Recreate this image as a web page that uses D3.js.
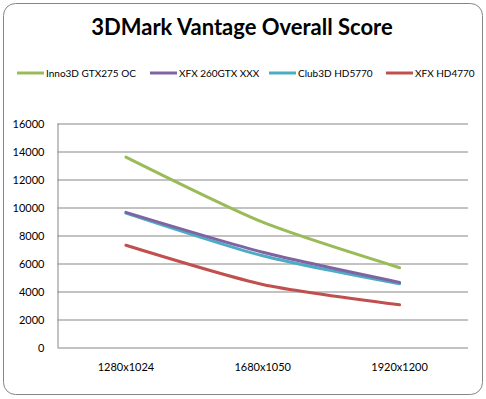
<!DOCTYPE html>
<html>
<head>
<meta charset="utf-8">
<script src="https://cdn.jsdelivr.net/npm/d3@7"></script>
<style>
  body { margin: 0; background: #fff; }
  svg text { font-family: Lato, "Open Sans", sans-serif; fill: #000; }
</style>
</head>
<body>
<svg id="chart" width="486" height="399"></svg>
<script>
// data
const categories = ['1280x1024', '1680x1050', '1920x1200'];
const seriesNames = ['Inno3D GTX275 OC', 'XFX 260GTX XXX', 'Club3D HD5770', 'XFX HD4770'];
const inno3d = [13600, 8950, 5700];
const xfx260 = [9650, 6800, 4650];
const club3d = [9600, 6550, 4550];
const xfx4770 = [7300, 4500, 3050];
const yTicks = [0, 2000, 4000, 6000, 8000, 10000, 12000, 14000, 16000];
const colors = ['#9bbb59', '#8064a2', '#4bacc6', '#c0504d'];

const series = [inno3d, xfx260, club3d, xfx4770].map((vals, i) => ({
  name: seriesNames[i], values: vals, color: colors[i]
}));

const svg = d3.select('#chart');

// outer frame
svg.append('rect')
  .attr('x', 3.5).attr('y', 3.5)
  .attr('width', 479).attr('height', 391)
  .attr('rx', 12)
  .attr('fill', '#fff')
  .attr('stroke', '#868686')
  .attr('stroke-width', 1);

svg.append('text')
  .attr('x', 242).attr('y', 35)
  .attr('text-anchor', 'middle')
  .style('font-size', '22px')
  .style('font-weight', 'bold')
  .text('3DMark Vantage Overall Score');

// legend
const legendX = [17, 150, 269, 386];
const legend = svg.append('g');
series.forEach((s, i) => {
  const lg = legend.append('g').attr('transform', `translate(${legendX[i]},73)`);
  lg.append('line')
    .attr('x1', 0).attr('x2', 27)
    .attr('stroke', s.color).attr('stroke-width', 3);
  lg.append('text')
    .attr('x', 29).attr('y', 4)
    .style('font-size', '10px')
    .text(s.name);
});

const margin = {top: 123.5, left: 57.5, right: 18, bottom: 52};
const width = 468 - margin.left;
const height = 347.5 - margin.top;

const g = svg.append('g')
  .attr('transform', `translate(${margin.left},${margin.top})`);

const x = d3.scaleBand().domain(categories).range([0, width]);
const y = d3.scaleLinear().domain([0, 16000]).range([height, 0]);

// gridlines
g.append('g')
  .selectAll('line')
  .data(yTicks)
  .join('line')
  .attr('x1', 0).attr('x2', width)
  .attr('y1', d => Math.round(y(d)) + 0.5)
  .attr('y2', d => Math.round(y(d)) + 0.5)
  .attr('stroke', '#868686');

const yAxis = g.append('g')
  .call(d3.axisLeft(y).tickValues(yTicks).tickSize(0).tickPadding(13).tickFormat(d3.format('d')));
yAxis.select('.domain').remove();
yAxis.selectAll('text').style('font-size', '11px').style('font-family', 'Lato, "Open Sans", sans-serif');

g.append('line')
  .attr('x1', 0.5).attr('x2', 0.5)
  .attr('y1', 0).attr('y2', height)
  .attr('stroke', '#868686');

const xAxis = g.append('g')
  .attr('transform', `translate(0,${height})`)
  .call(d3.axisBottom(x).tickSize(0).tickPadding(16));
xAxis.select('.domain').remove();
xAxis.selectAll('text').style('font-size', '11px').style('font-family', 'Lato, "Open Sans", sans-serif');

const line = d3.line()
  .x((d, i) => x(categories[i]) + x.bandwidth() / 2)
  .y(d => y(d))
  .curve(d3.curveCardinal.tension(0.3));

g.selectAll('.series')
  .data(series.slice().reverse())
  .join('path')
  .attr('class', 'series')
  .attr('fill', 'none')
  .attr('stroke', d => d.color)
  .attr('stroke-width', 3)
  .attr('stroke-linecap', 'round')
  .attr('d', d => line(d.values));
</script>
</body>
</html>
